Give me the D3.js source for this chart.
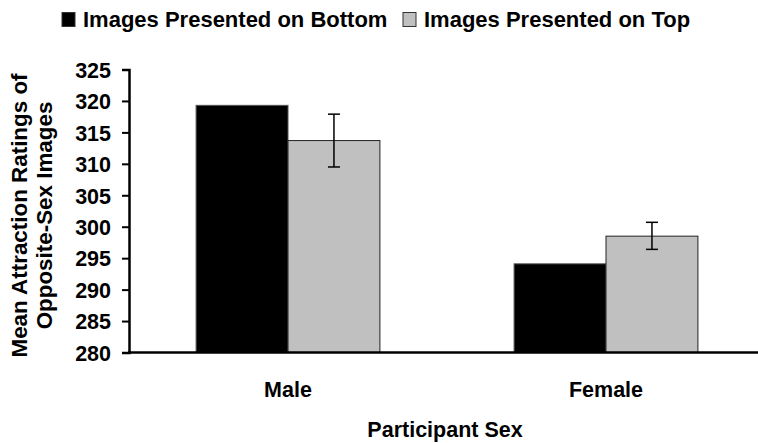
<!DOCTYPE html>
<html>
<head>
<meta charset="utf-8">
<script src="https://cdn.jsdelivr.net/npm/d3@7"></script>
<style>
  body { margin: 0; background: #fff; }
  text { font-family: "Liberation Sans", Arial, sans-serif; font-weight: bold; fill: #000; }
</style>
</head>
<body>
<svg id="chart" width="758" height="443"></svg>
<script>
// data
const categories = ["Male", "Female"];
const seriesNames = ["Images Presented on Bottom", "Images Presented on Top"];
const bottomValues = [319.3, 294.1];
const topValues = [313.7, 298.5];
const topErrLow = [309.5, 296.4];
const topErrHigh = [317.9, 300.7];
const yTicks = [280, 285, 290, 295, 300, 305, 310, 315, 320, 325];
const colors = ["#000000", "#c0c0c0"];

const svg = d3.select("#chart");
const margin = { left: 129, top: 69.5, bottom: 352.5 };
const fontSize = 21.5;

// y scale
const y = d3.scaleLinear().domain([280, 325]).range([margin.bottom, margin.top]);

// x scales: group band and inner series band
const x0 = d3.scaleBand().domain(categories).range([129, 765]).padding(0);
const x1 = d3.scaleBand().domain(seriesNames).range([0, x0.bandwidth()]).paddingOuter(0.73).paddingInner(0);

const rows = categories.map((c, i) => ({
    cat: c,
    vals: [
        { key: seriesNames[0], v: bottomValues[i] },
        { key: seriesNames[1], v: topValues[i], lo: topErrLow[i], hi: topErrHigh[i] }
    ]
}));

// bars
let groups = svg.append("g")
    .selectAll("g")
    .data(rows)
    .join("g")
    .attr("transform", d => "translate(" + x0(d.cat) + ",0)");

groups.selectAll("rect")
    .data(d => d.vals)
    .join("rect")
    .attr("x", d => x1(d.key))
    .attr("width", x1.bandwidth())
    .attr("y", d => y(d.v))
    .attr("height", d => y(280) - y(d.v))
    .attr("fill", (d, i) => colors[i])
    .attr("stroke", (d, i) => i == 0 ? "#555" : "#222")
    .attr("stroke-width", 1);

// error bars (only the grey series shows them)
groups.each(function (d) {
    let g = d3.select(this);
    d.vals.filter(e => e.lo != undefined).forEach(e => {
        let cx = x1(e.key) + x1.bandwidth() / 2;
        g.append("line")
            .attr("x1", cx).attr("x2", cx)
            .attr("y1", y(e.lo)).attr("y2", y(e.hi))
            .attr("stroke", "#000").attr("stroke-width", 1.5);
        [e.lo, e.hi].forEach(v => {
            g.append("line")
                .attr("x1", cx - 6).attr("x2", cx + 6)
                .attr("y1", y(v)).attr("y2", y(v))
                .attr("stroke", "#000").attr("stroke-width", 1.5);
        });
    });
});

// y axis
let yAxis = svg.append("g")
    .attr("transform", "translate(" + margin.left + ",0)")
    .call(d3.axisLeft(y).tickValues(yTicks).tickSize(7).tickPadding(11));
yAxis.select(".domain").attr("stroke", "#000").attr("stroke-width", 2.5);
yAxis.selectAll(".tick line").attr("stroke", "#000").attr("stroke-width", 2);
yAxis.selectAll(".tick text")
    .style("font-family", "'Liberation Sans', Arial, sans-serif")
    .style("font-weight", "bold")
    .attr("font-size", fontSize)
    .attr("dy", "0.36em");

// x axis line
svg.append("line")
    .attr("x1", margin.left - 1).attr("x2", 758)
    .attr("y1", y(280)).attr("y2", y(280))
    .attr("stroke", "#000").attr("stroke-width", 2.5);

// category labels
svg.append("g")
    .selectAll("text")
    .data(categories)
    .join("text")
    .attr("x", d => x0(d) + x0.bandwidth() / 2)
    .attr("y", 397)
    .attr("text-anchor", "middle")
    .attr("font-size", fontSize)
    .text(d => d);

// axis titles
svg.append("text")
    .attr("x", 445).attr("y", 437)
    .attr("text-anchor", "middle")
    .attr("font-size", fontSize)
    .text("Participant Sex");

let yl = svg.append("text")
    .attr("transform", "translate(0,215.5) rotate(-90)")
    .attr("text-anchor", "middle")
    .attr("font-size", 22.4);
yl.append("tspan").attr("x", 0).attr("y", 27).text("Mean Attraction Ratings of");
yl.append("tspan").attr("x", 0).attr("y", 52).text("Opposite-Sex Images");

// legend
let legend = svg.append("g");
let legendX = [62, 403];
seriesNames.forEach((s, i) => {
    legend.append("rect")
        .attr("x", legendX[i]).attr("y", 12.5)
        .attr("width", 13).attr("height", 14)
        .attr("fill", colors[i])
        .attr("stroke", "#333").attr("stroke-width", 1);
    legend.append("text")
        .attr("x", legendX[i] + 21).attr("y", 27)
        .attr("font-size", 22)
        .text(s);
});
</script>
</body>
</html>
